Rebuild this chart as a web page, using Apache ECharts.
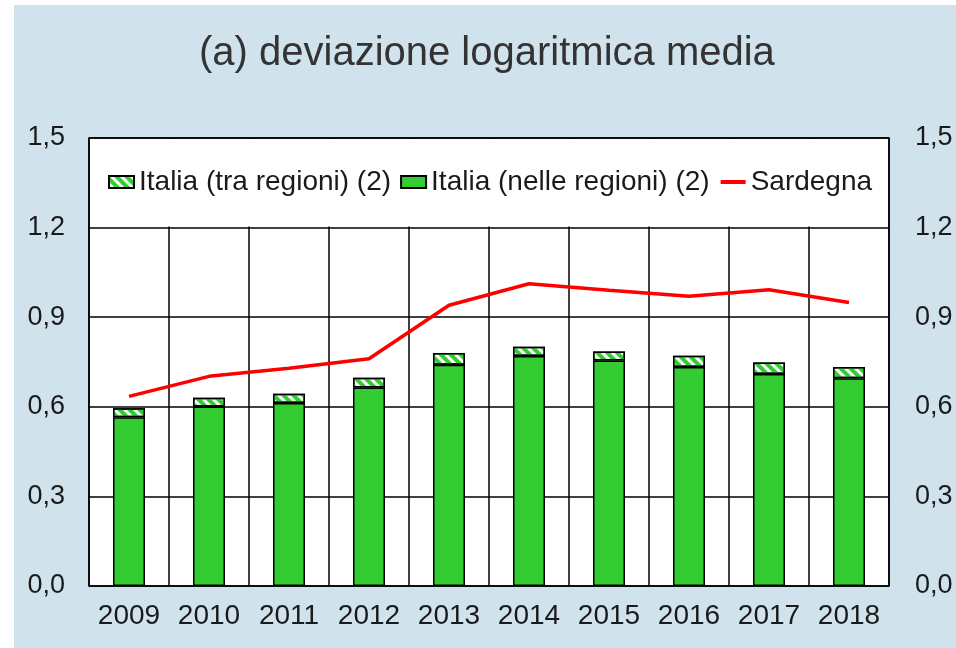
<!DOCTYPE html>
<html>
<head>
<meta charset="utf-8">
<script src="https://cdn.jsdelivr.net/npm/echarts@6/dist/echarts.min.js"></script>
<style>
  html, body { margin: 0; padding: 0; background: #fff; }
  #bg { position: absolute; left: 14px; top: 5px; width: 942px; height: 643px; background: #d0e2ec; }
  #main { position: absolute; left: 0; top: 0; width: 956px; height: 648px; }
</style>
</head>
<body>
<div id="bg"></div>
<div id="main"></div>
<script>
// dati
const anni = ['2009', '2010', '2011', '2012', '2013', '2014', '2015', '2016', '2017', '2018'];
const nelleRegioni = [0.565, 0.601, 0.613, 0.665, 0.741, 0.770, 0.755, 0.733, 0.710, 0.696];
const traRegioni = [0.030, 0.029, 0.031, 0.032, 0.039, 0.031, 0.030, 0.038, 0.038, 0.037];
const sardegna = [0.635, 0.702, 0.729, 0.761, 0.940, 1.012, 0.990, 0.970, 0.992, 0.949];
const yTicks = [0, 0.3, 0.6, 0.9, 1.2, 1.5];

const font = "'Liberation Sans', Arial, sans-serif";
const myChart = echarts.init(document.getElementById('main'));

const yAxisBase = {
  type: 'value',
  min: yTicks[0],
  max: yTicks[yTicks.length - 1],
  interval: yTicks[1] - yTicks[0],
  axisLine: { show: false },
  axisTick: { show: false },
  axisLabel: {
    margin: 24,
    color: '#1a1a1a',
    fontSize: 27,
    fontFamily: font,
    formatter: v => v.toFixed(1).replace('.', ',')
  }
};

const option = {
  backgroundColor: 'transparent',
  animation: false,
  title: {
    text: '(a) deviazione logaritmica media',
    left: 194,
    top: 29,
    textStyle: { color: '#333', fontSize: 40, fontWeight: 'normal', fontFamily: font }
  },
  legend: {
    data: [
      { name: 'Italia (tra regioni) (2)', icon: 'rect' },
      { name: 'Italia (nelle regioni) (2)', icon: 'rect' },
      { name: 'Sardegna', itemStyle: { opacity: 0 }, lineStyle: { width: 4 } }
    ],
    left: 103,
    top: 163,
    itemWidth: 25,
    itemHeight: 12,
    itemGap: 9,
    z: 10,
    textStyle: { color: '#1a1a1a', fontSize: 28, fontFamily: font }
  },
  grid: {
    left: 89,
    right: 67,
    top: 138,
    bottom: 62,
    show: true,
    backgroundColor: '#fff',
    borderColor: '#000',
    borderWidth: 1.5
  },
  xAxis: {
    type: 'category',
    data: anni,
    axisLine: { show: false },
    axisTick: { show: false },
    splitLine: { show: true, interval: 0, lineStyle: { color: '#000', width: 1.5 } },
    axisLabel: { interval: 0, margin: 16, color: '#1a1a1a', fontSize: 28, fontFamily: font }
  },
  yAxis: [
    Object.assign({}, yAxisBase, {
      position: 'left',
      splitLine: { show: true, lineStyle: { color: '#000', width: 1.5 } }
    }),
    Object.assign({}, yAxisBase, {
      position: 'right',
      splitLine: { show: false },
      axisLabel: Object.assign({}, yAxisBase.axisLabel, { margin: 26 })
    })
  ],
  series: [
    {
      name: 'Italia (nelle regioni) (2)',
      type: 'bar',
      stack: 'italia',
      barWidth: '40%',
      itemStyle: { color: '#33cc33', borderColor: '#000', borderWidth: 1.5 },
      data: nelleRegioni
    },
    {
      name: 'Italia (tra regioni) (2)',
      type: 'bar',
      stack: 'italia',
      barWidth: '40%',
      itemStyle: {
        color: '#fff',
        borderColor: '#000',
        borderWidth: 1.5,
        decal: {
          symbol: 'rect',
          symbolSize: 1,
          color: '#33cc33',
          dashArrayX: [1, 0],
          dashArrayY: [4, 3],
          rotation: Math.PI / 4
        }
      },
      data: traRegioni
    },
    {
      name: 'Sardegna',
      type: 'line',
      symbol: 'none',
      z: 5,
      lineStyle: { color: '#ff0000', width: 3.5 },
      itemStyle: { color: '#ff0000' },
      data: sardegna
    }
  ]
};

myChart.setOption(option);

// fascia bianca della legenda (copre le linee verticali sopra 1,2)
const x0 = myChart.convertToPixel({ xAxisIndex: 0 }, anni[0]) - 40;
const x1 = myChart.convertToPixel({ xAxisIndex: 0 }, anni[anni.length - 1]) + 40;
const yTop = myChart.convertToPixel({ yAxisIndex: 0 }, yTicks[5]);
const yBand = myChart.convertToPixel({ yAxisIndex: 0 }, yTicks[4]);
myChart.setOption({
  graphic: [{
    type: 'rect',
    z: 1,
    shape: { x: x0 + 1.5, y: yTop + 1, width: x1 - x0 - 3, height: yBand - yTop - 2 },
    style: { fill: '#fff' }
  }]
});
</script>
</body>
</html>
